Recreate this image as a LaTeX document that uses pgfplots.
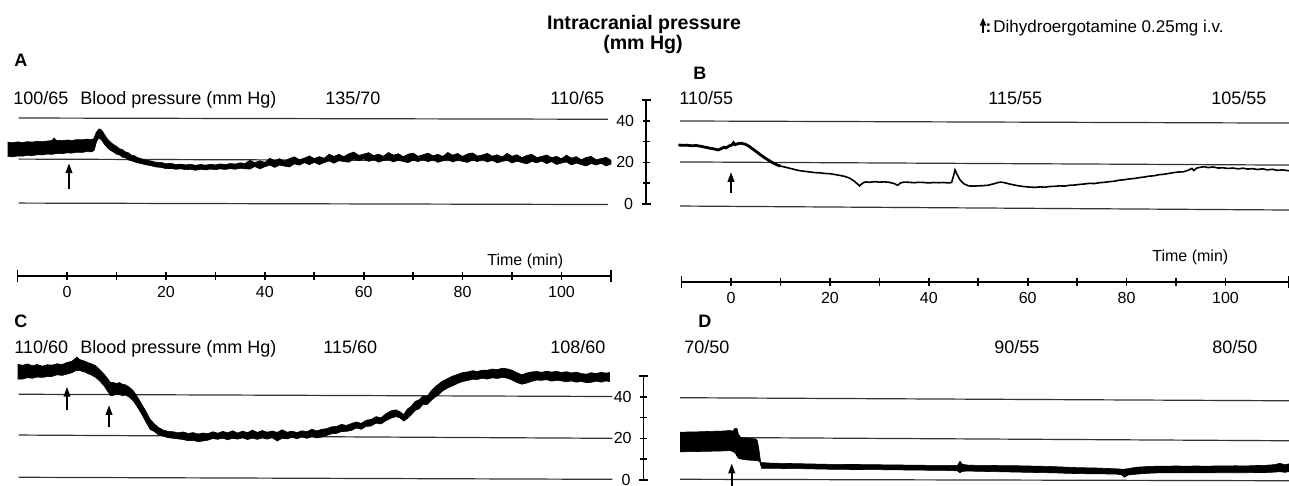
\documentclass[border=0pt]{standalone}
\usepackage{fontspec}
\setmainfont{Liberation Sans}
\usepackage{pgfplots}
\pgfplotsset{compat=1.18}
\usetikzlibrary{arrows.meta}
\newcommand\fs[1]{\fontsize{#1}{#1}\selectfont}

% 1 px of the reference = 0.5pt
\tikzset{arr/.style={line width=1.1pt, -{Triangle[length=5pt,width=3.2pt]}}}
\pgfplotsset{
  trace/.style={hide axis, clip=false, enlargelimits=false, anchor=south west,
    x=2.4725pt, xmin=-12, xmax=114, ymin=0, ymax=50},
  gline/.style={line width=0.6pt, black!80},
  sig/.style={fill=black, draw=black, line width=0.3pt},
  timeax/.style={axis x line*=bottom, axis y line=none, enlargelimits=false,
    anchor=south west, x=2.4725pt, y=1pt, ymin=0, ymax=1, xmin=-10,
    axis line style={line width=0.9pt}, tick style={line width=0.8pt, black},
    major tick length=4pt, tick align=center,
    xtick={0,10,...,100}, xticklabels={0,,20,,40,,60,,80,,100},
    extra x tick labels={}, extra x tick style={major tick length=6pt},
    xticklabel style={font=\fs{8}, inner sep=0pt, anchor=north, yshift=-3pt}},
  scaleax/.style={axis y line*=left, axis x line=none, enlargelimits=false,
    anchor=south west, x=1pt, xmin=0, xmax=1, y=1.04pt, ymin=0, ymax=50,
    axis line style={line width=0.9pt}, tick style={line width=0.8pt, black},
    major tick length=3.5pt, tick align=center,
    ytick={10,20,30,40}, yticklabels={,20,,40},
    extra y ticks={0,50}, extra y tick labels={0,{}},
    extra y tick style={major tick length=4.5pt},
    yticklabel style={font=\fs{8}, inner sep=0pt, anchor=east, xshift=-4pt}},
}

\begin{document}
\begin{tikzpicture}
\useasboundingbox (0,0) rectangle (644.5pt,-243pt);

% ---------------- panel A ----------------
\begin{axis}[trace, at={(3.83pt,-101.75pt)}, y=1.0375pt]
\addplot[gline] coordinates {(-9.8,41.2)(109.4,40.6)};
\addplot[gline] coordinates {(-9.8,21.4)(109.4,20.5)};
\addplot[gline] coordinates {(-9.8,0.2)(109.4,-0.5)};
\addplot[sig] coordinates {
(-12,29.6)(-11,29.3)(-10,29.7)(-9,29.4)(-8,29.8)(-7,29.6)(-6,30.0)(-5,29.8)(-4,30.1)(-3,30.4)
(-2.6,31.6)(-2.2,30.5)(-1,30.3)(0,30.6)(1,30.4)(2,30.8)(3,30.7)(4,31.0)(5,30.9)(5.4,31.2)
(5.9,34.2)(6.5,36.0)(7.0,35.4)(7.6,33.2)(8.2,31.0)(8.8,29.6)(9.4,28.4)(10,27.6)(10.6,26.4)
(11.2,26.0)(11.8,24.9)(12.4,24.5)(13,23.3)(13.6,23.1)(14.2,22.2)(15,21.6)(16,20.9)(17,20.5)
(18,19.9)(19,19.8)(20,19.2)(21,19.3)(22,18.8)(23,19.0)(24,18.6)(25,18.9)(26,18.4)(27,18.8)
(28,18.5)(29,18.9)(30,18.6)(31,19.1)(32,18.7)(33,19.3)(34,19.0)(35,19.6)(36,19.3)
(37,20.8)(38,19.7)(39,20.6)(40,19.8)(41,21.8)(42,20.7)(43,21.6)(44,20.4)(45,21.7)(46,22.5)
(47,21.1)(48,21.9)(49,22.9)(50,21.7)(51,22.6)(52,21.8)(53,23.8)(54,22.7)(55,23.7)(56,22.6)
(57,24.0)(58,24.8)(59,23.2)(60,23.8)(61,24.5)(62,23.1)(63,23.8)(64,22.8)(65,24.6)(66,23.3)
(67,24.0)(68,22.6)(69,23.8)(70,24.3)(71,22.8)(72,23.5)(73,24.3)(74,23.0)(75,23.7)(76,22.7)
(77,24.6)(78,23.3)(79,24.1)(80,22.7)(81,23.9)(82,24.4)(83,22.9)(84,23.4)(85,24.2)(86,22.8)
(87,23.5)(88,22.4)(89,24.2)(90,22.8)(91,23.5)(92,22.1)(93,23.2)(94,23.7)(95,22.2)(96,22.7)
(97,23.4)(98,22.1)(99,22.7)(100,21.6)(101,23.3)(102,21.9)(103,22.6)(104,21.1)(105,22.2)
(106,22.7)(107,21.1)(108,21.6)(109,22.3)(110,20.9)
(110,19.0)(109,18.1)(108,19.4)(107,18.5)(106,19.3)(105,18.1)(104,18.7)(103,19.5)(102,18.6)
(101,20.0)(100,19.5)(99,18.8)(98,20.2)(97,19.2)(96,20.5)(95,19.6)(94,20.3)(93,19.1)(92,19.7)
(91,20.4)(90,19.5)(89,20.9)(88,20.3)(87,19.6)(86,20.9)(85,20.0)(84,21.2)(83,20.2)(82,21.0)
(81,19.8)(80,20.3)(79,21.0)(78,20.0)(77,21.2)(76,20.6)(75,19.8)(74,21.1)(73,20.1)(72,21.2)
(71,20.2)(70,20.9)(69,19.7)(68,20.2)(67,20.9)(66,20.0)(65,21.2)(64,20.7)(63,19.9)(62,21.2)
(61,20.3)(60,21.5)(59,20.6)(58,21.4)(57,19.9)(56,20.2)(55,20.6)(54,19.4)(53,20.5)(52,19.7)
(51,18.7)(50,19.8)(49,18.7)(48,19.7)(47,18.5)(46,19.1)(45,17.6)(44,18.0)(43,18.5)(42,17.4)
(41,18.5)(40,17.7)(39,16.7)(38,17.8)(37,16.6)
(36,16.7)(35,17.0)(34,16.5)(33,16.8)(32,16.4)
(31,16.7)(30,16.3)(29,16.6)(28,16.2)(27,16.5)(26,16.0)(25,16.5)(24,16.3)(23,16.7)(22,16.5)
(21,16.9)(20,16.8)(19,17.4)(18,17.6)(17,18.2)(16,18.6)(15,19.2)(14,19.8)(13,20.6)(12.4,21.0)
(11.8,22.0)(11.2,22.4)(10.6,23.4)(10,23.8)(9.4,24.8)(8.8,25.6)(8.2,26.8)(7.6,28.4)(7.0,30.6)
(6.5,31.6)(6.0,30.0)(5.5,25.6)(5,24.9)(4,25.0)(3,24.6)(2,24.7)(1,24.3)(0,24.4)(-1,24.0)
(-2,24.1)(-3,23.7)(-4,23.8)(-5,23.4)(-6,23.5)(-7,23.1)(-8,23.2)(-9,22.8)(-10,22.9)(-11,22.5)
(-12,22.6)};
\draw[arr] (axis cs:0.4,7) -- (axis cs:0.4,19.5);
\end{axis}

% ---------------- panel B ----------------
\begin{axis}[trace, at={(335.83pt,-103.75pt)}, y=1.05pt]
\addplot[gline] coordinates {(-10.3,41.2)(113,40.2)};
\addplot[gline] coordinates {(-10.3,21.7)(113,20.2)};
\addplot[gline] coordinates {(-10.3,0.7)(113,-1.2)};
\addplot[black, line width=0.8pt] coordinates {
(-10.6,29.8)(-10,29.6)(-9,29.7)(-8,29.4)(-7,29.5)(-6,29.1)(-5,28.6)(-4.2,28.2)(-3.4,27.9)
(-2.6,27.4)(-2,28.0)(-1.4,28.7)(-1,28.4)(-0.4,29.3)(0.2,29.8)(0.5,30.8)(0.8,29.9)(1.4,30.4)
(2,30.6)(2.8,30.2)(3.5,29.4)(4.2,28.2)(5,26.8)(5.8,25.4)(6.6,24.0)(7.4,22.8)(8.2,21.6)
(8.8,20.9)(9.4,20.2)(10,19.7)(11,19.2)(12,18.6)(13,18.0)(14,17.5)(15,17.2)(16,16.9)(17,16.6)
(18,16.5)(19,16.2)(20,16.1)(21,15.7)(22,15.3)(23,14.8)(24,14.0)(25,12.4)(26,10.3)(26.6,11.6)
(27.2,12.2)(28,12.0)(29,12.3)(30,12.1)(31,12.2)(32,12.0)(33,11.4)(33.7,10.6)(34.3,11.7)
(35,12.1)(36,12.0)(37,11.8)(38,12.0)(39,11.9)(40,11.7)(41,11.9)(42,11.8)(43,11.9)(44,11.7)
(44.6,11.9)(45.0,15.0)(45.3,17.9)(45.7,15.8)(46.3,13.2)(47,11.4)(48,10.3)(49,10.2)(50,10.3)
(51,10.4)(52,10.6)(53,11.2)(54,11.9)(54.6,12.1)(55.5,11.7)(56.5,11.1)(57.5,10.6)(58.5,10.2)
(59.5,9.9)(60.5,9.7)(61.5,9.6)(62.5,9.8)(63.5,9.7)(64.5,10.0)(65.5,10.1)(66.5,10.3)(67.5,10.2)
(68.5,10.6)(69.5,10.7)(70.5,11.0)(71.5,11.2)(72.5,11.5)(73.5,11.4)(74.5,11.8)(75.5,12.0)
(76.5,12.3)(77.5,12.5)(78.5,13.0)(79.5,13.2)(80.5,13.6)(81.5,13.8)(82.5,14.2)(83.5,14.5)
(84.5,14.9)(85.5,15.1)(86.5,15.6)(87.5,15.8)(88.5,16.2)(89.5,16.6)(90.5,16.9)(91.5,17.0)
(92.5,17.8)(93.2,18.6)(93.6,17.6)(94.2,18.8)(95,19.2)(95.7,19.4)(96.5,19.0)(97.5,19.3)
(98.5,18.8)(99.5,18.9)(100.5,18.6)(101.5,18.8)(102.5,18.4)(103.5,18.7)(104.5,18.3)(105.5,18.5)
(106.4,18.1)(107.5,18.4)(108.5,17.9)(109.5,18.2)(110.5,17.7)(111.5,17.9)(112.8,17.5)};
% thicker start of trace B
\addplot[black, line width=1.4pt] coordinates {
(-10.6,29.8)(-10,29.6)(-9,29.7)(-8,29.4)(-7,29.5)(-6,29.1)(-5,28.6)(-4.2,28.2)(-3.4,27.9)
(-2.6,27.4)(-2,28.0)(-1.4,28.7)(-1,28.4)(-0.4,29.3)(0.2,29.8)(0.5,30.8)(0.8,29.9)(1.4,30.4)
(2,30.6)(2.8,30.2)(3.5,29.4)(4.2,28.2)(5,26.8)(5.8,25.4)(6.6,24.0)(7.4,22.8)(8.2,21.6)
(8.8,20.9)(9.4,20.2)(10,19.7)};
\draw[arr] (axis cs:0,7) -- (axis cs:0,17);
\end{axis}

% ---------------- panel C ----------------
\begin{axis}[trace, at={(3.83pt,-239.25pt)}, y=1.025pt]
\addplot[gline] coordinates {(-9.8,41.1)(110.3,40.0)};
\addplot[gline] coordinates {(-9.8,21.2)(110.3,19.6)};
\addplot[gline] coordinates {(-9.8,0.6)(110.3,-0.4)};
\addplot[sig] coordinates {
(-10,55.8)(-9,55.2)(-8,55.9)(-7,55.0)(-6,55.6)(-5,54.8)(-4,55.5)(-3,55.3)(-2,56.0)(-1,55.6)
(0,56.6)(1,57.2)(1.6,58.4)(2,59.3)(2.6,58.0)(3.2,57.6)(3.8,57.0)(4.4,56.4)(5,55.9)(5.8,55.0)
(6.6,53.2)(7.5,50.9)(8.2,48.8)(8.8,46.8)(9.4,46.9)(10,46.3)(10.6,46.8)(11.2,46.0)(11.8,45.7)
(12.6,44.6)(13.4,42.8)(14.2,40.0)(15.1,36.3)(16,32.6)(16.8,28.9)(17.6,26.8)(18.5,24.9)
(19.5,23.6)(20.5,23.0)(21.5,22.8)(22.5,22.3)(23.5,22.7)(24.5,22.0)(25.5,22.4)(26.5,21.7)
(27.5,22.2)(28.5,21.9)(29.5,22.8)(30.5,22.1)(31.5,23.0)(32.5,22.3)(33.5,23.3)(34.5,22.2)
(35.5,23.1)(36.5,22.4)(37.5,23.6)(38.5,22.5)(39.5,23.4)(40.5,22.6)(41.5,23.2)(42.5,22.5)
(43.5,23.8)(44.5,22.6)(45.5,23.1)(46.5,22.4)(47.5,23.3)(48.5,22.8)(49.5,24.0)(50.5,23.2)
(51.5,24.0)(52.5,24.3)(53.5,25.2)(54.5,25.4)(55.5,26.4)(56.5,25.9)(57.5,26.8)(58.5,27.6)
(59.5,26.9)(60.5,28.4)(61.5,28.8)(62.5,30.2)(63.5,29.6)(64.5,31.6)(65.5,33.0)(66.5,33.5)
(67.3,32.6)(68.1,31.2)(68.8,33.8)(69.6,35.2)(70.4,37.6)(71.2,38.4)(72,40.3)(72.8,40.0)
(73.6,42.6)(74.4,44.6)(75.2,46.2)(76,47.6)(77,48.8)(78,50.0)(79,50.8)(80,51.7)(81,52.0)
(82,52.6)(83,52.2)(84,52.9)(85,52.8)(86,53.4)(87,53.1)(88,53.8)(89,53.5)(90,52.8)(91,51.6)
(92,50.6)(93,51.5)(94,52.0)(95,52.2)(96,51.8)(97,52.4)(98,51.9)(99,52.3)(100,51.7)(101,52.1)
(102,51.5)(103,51.9)(104,51.2)(105,50.9)(106,51.6)(107,51.2)(108,51.8)(109,51.4)(109.7,51.7)
(109.7,47.3)(109,47.6)(108,47.0)(107,47.5)(106,46.9)(105,46.8)(104,47.3)(103,47.0)(102,47.6)
(101,47.2)(100,47.6)(99,47.9)(98,47.5)(97,48.2)(96,47.9)(95,48.0)(94,47.4)(93,46.6)(92,46.0)
(91,46.8)(90,48.0)(89,49.0)(88,49.3)(87,48.8)(86,49.1)(85,48.5)(84,48.9)(83,48.3)(82,48.4)
(81,47.8)(80,47.3)(79,46.4)(78,45.2)(77,44.2)(76,42.8)(75.2,41.0)(74.4,39.6)(73.6,38.0)
(72.8,36.0)(72,36.2)(71.2,34.0)(70.4,33.2)(69.6,31.0)(68.8,29.2)(68.1,28.0)(67.3,29.6)
(66.5,30.2)(65.5,29.4)(64.5,28.2)(63.5,26.6)(62.5,27.0)(61.5,25.6)(60.5,25.4)(59.5,24.0)
(58.5,24.6)(57.5,23.4)(56.5,23.0)(55.5,22.9)(54.5,22.0)(53.5,21.8)(52.5,21.0)(51.5,20.2)
(50.5,19.8)(49.5,20.4)(48.5,19.6)(47.5,20.2)(46.5,19.4)(45.5,20.1)(44.5,19.3)(43.5,19.6)
(42.5,18.3)(41.5,19.9)(40.5,19.2)(39.5,19.8)(38.5,19.1)(37.5,19.7)(36.5,19.0)(35.5,19.8)
(34.5,19.2)(33.5,19.6)(32.5,18.9)(31.5,19.7)(30.5,19.1)(29.5,19.5)(28.5,18.7)(27.5,18.3)
(26.5,18.0)(25.5,18.6)(24.5,18.4)(23.5,19.0)(22.5,19.3)(21.5,19.6)(20.5,19.9)(19.5,20.6)
(18.5,21.3)(17.6,23.0)(16.8,24.0)(16,27.4)(15.1,31.4)(14.2,35.0)(13.4,37.9)(12.6,39.6)
(11.8,40.8)(11.2,40.4)(10.6,41.0)(10,41.1)(9.4,40.6)(8.8,40.3)(8.2,42.6)(7.5,45.2)(6.6,47.6)
(5.8,49.3)(5,50.4)(4.4,51.0)(3.8,51.7)(3.2,52.2)(2.6,52.6)(2,52.8)(1.6,52.4)(1,51.6)(0,50.9)
(-1,50.3)(-2,50.6)(-3,49.8)(-4,49.7)(-5,49.3)(-6,49.5)(-7,48.9)(-8,49.2)(-9,48.5)(-10,48.5)};
\draw[arr] (axis cs:0,33.4) -- (axis cs:0,44.8);
\draw[arr] (axis cs:8.5,25.3) -- (axis cs:8.5,35.9);
\end{axis}

% ---------------- panel D ----------------
\begin{axis}[trace, at={(335.83pt,-239.75pt)}, y=1.025pt]
\addplot[gline] coordinates {(-10.3,39.9)(113,38.4)};
\addplot[gline] coordinates {(-10.3,20.6)(113,18.9)};
\addplot[gline] coordinates {(-10.3,0.1)(113,-0.6)};
\addplot[sig] coordinates {
(-10.3,23.1)(-8,23.2)(-6,23.3)(-4,23.5)(-2,23.6)(-0.2,23.9)(0.4,23.6)(0.8,25.0)(1.2,24.9)
(1.5,22.0)(2,20.4)(3,20.2)(4,20.0)(5,19.8)(5.3,19.0)(5.6,15.4)(6,8.3)(8,8.0)(10,7.9)(12,7.8)
(14,7.7)(16,7.6)(18,7.5)(20,7.4)(22,7.4)(24,7.3)(26,7.3)(28,7.2)(30,7.2)(32,7.1)(34,7.1)
(36,7.0)(38,7.0)(40,6.9)(42,6.9)(44,6.9)(45.8,6.9)(46.3,8.9)(46.8,7.4)(48,7.0)(50,6.9)
(52,6.9)(54,6.8)(56,6.8)(58,6.7)(60,6.6)(62,6.5)(64,6.4)(66,6.2)(68,6.0)(70,5.8)(72,5.7)
(74,5.6)(76,5.4)(78,5.2)(79.5,5.0)(80.5,5.4)(82,6.0)(84,6.3)(86,6.5)(88,6.5)(90,6.6)(92,6.5)
(94,6.6)(96,6.5)(98,6.6)(100,6.6)(102,6.7)(104,6.6)(106,6.8)(108,6.9)(110,7.3)(111,7.9)
(112,7.2)(112.8,7.6)
(112.8,3.8)(112,3.5)(111,3.8)(110,3.6)(108,3.4)(106,3.4)(104,3.3)(102,3.3)(100,3.3)(98,3.3)
(96,3.2)(94,3.3)(92,3.2)(90,3.3)(88,3.2)(86,3.2)(84,3.0)(82,2.6)(80.3,2.2)(79.6,1.1)(79,2.2)
(78,2.6)(76,2.7)(74,2.8)(72,2.8)(70,2.9)(68,3.0)(66,3.2)(64,3.3)(62,3.4)(60,3.5)(58,3.6)
(56,3.7)(54,3.8)(52,3.9)(50,4.0)(48,4.1)(46.8,4.0)(46.3,3.3)(45.8,4.2)(44,4.4)(42,4.5)
(40,4.5)(38,4.6)(36,4.6)(34,4.7)(32,4.7)(30,4.8)(28,4.8)(26,4.9)(24,4.9)(22,5.0)(20,5.0)
(18,5.1)(16,5.2)(14,5.3)(12,5.3)(10,5.4)(8,5.4)(6.2,5.4)(5.8,8.8)(5.3,9.2)(4,9.4)(3,9.6)
(2,10.0)(1.5,10.4)(1.2,11.4)(0.9,12.8)(0.4,13.6)(-0.2,14.1)(-2,13.9)(-4,13.8)(-6,13.7)
(-8,13.6)(-10.3,13.5)};
\draw[arr] (axis cs:0.15,-4) -- (axis cs:0.15,7.9);
\end{axis}

% ---------------- time axes ----------------
\begin{axis}[timeax, at={(8.775pt,-138pt)}, xmax=110, extra x ticks={-10,110}]
\end{axis}
\begin{axis}[timeax, at={(340.78pt,-141pt)}, xmax=112.8, extra x ticks={-10,112.8}]
\end{axis}

% ---------------- pressure scales ----------------
\begin{axis}[scaleax, at={(323pt,-102pt)}]
\end{axis}
\begin{axis}[scaleax, at={(321.75pt,-240pt)}]
\end{axis}

% ---------------- texts ----------------
\node[anchor=base, inner sep=0pt, font=\fs{9.8}\bfseries] at (322pt,-15pt) {Intracranial pressure};
\node[anchor=base, inner sep=0pt, font=\fs{9.8}\bfseries] at (321.5pt,-25pt) {(mm Hg)};
\draw[line width=1pt, -{Triangle[length=4pt,width=3pt]}] (491.5pt,-16.6pt) -- (491.5pt,-8.8pt);
\node[anchor=base west, inner sep=0pt, font=\fs{8.5}\bfseries] at (492.6pt,-16.3pt) {:};
\node[anchor=base west, inner sep=0pt, font=\fs{8.5}] at (496.5pt,-16.3pt) {Dihydroergotamine 0.25mg i.v.};

\begin{scope}[every node/.style={anchor=base west, inner sep=0pt, font=\fs{9}}]
\node[font=\fs{9}\bfseries] at (7pt,-33.5pt) {A};
\node[font=\fs{9}\bfseries] at (346.5pt,-40pt) {B};
\node[font=\fs{9}\bfseries] at (7pt,-163.5pt) {C};
\node[font=\fs{9}\bfseries] at (349pt,-163.5pt) {D};
\node at (6.5pt,-52.5pt) {100/65};
\node at (40pt,-52.5pt) {Blood pressure (mm Hg)};
\node at (162.5pt,-52.5pt) {135/70};
\node at (275pt,-52.5pt) {110/65};
\node at (339.5pt,-52.5pt) {110/55};
\node at (494pt,-52.5pt) {115/55};
\node at (605.5pt,-52.5pt) {105/55};
\node at (7pt,-176.5pt) {110/60};
\node at (40pt,-176.5pt) {Blood pressure (mm Hg)};
\node at (161.5pt,-176.5pt) {115/60};
\node at (275pt,-176.5pt) {108/60};
\node at (342pt,-176.5pt) {70/50};
\node at (497pt,-176.5pt) {90/55};
\node at (606pt,-176.5pt) {80/50};
\end{scope}
\node[anchor=base west, inner sep=0pt, font=\fs{8}] at (243.5pt,-132.5pt) {Time (min)};
\node[anchor=base west, inner sep=0pt, font=\fs{8}] at (576pt,-131pt) {Time (min)};
\end{tikzpicture}
\end{document}
